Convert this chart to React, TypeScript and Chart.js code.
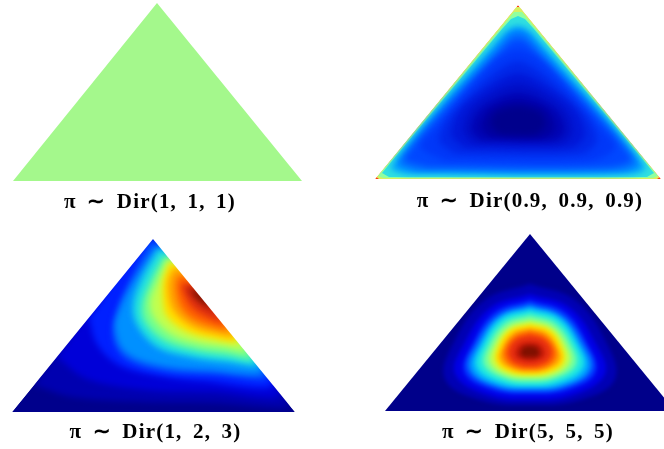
import React, { useEffect, useRef } from "react";
import { Chart, registerables } from "chart.js";

Chart.register(...registerables);

type Pair = [number, number];

// Captions
const captionUniform = "π ∼ Dir(1, 1, 1)";
const captionSparse = "π ∼ Dir(0.9, 0.9, 0.9)";
const captionSkewed = "π ∼ Dir(1, 2, 3)";
const captionPeaked = "π ∼ Dir(5, 5, 5)";

// Jet-like level colours, outermost first
const uniformColors = ["#a4f88c"];
const sparseColors = ["#ff3a10", "#d8f060", "#90ffa0", "#30e0e0", "#00a0ff", "#0070ff", "#0048ff", "#0038f8", "#0028e8", "#0018d8", "#0010c8", "#0004b4", "#0000a0", "#00008c"];
const skewedColors = ["#00008c", "#0000b0", "#0000d8", "#0020ff", "#0050ff", "#0090ff", "#20e0e0", "#70ff90", "#c0ff50", "#ffe000", "#ffa000", "#ff6000", "#e03010", "#b01c08", "#701000"];
const peakedColors = ["#00008a", "#0000b4", "#0000e6", "#0030ff", "#0070ff", "#00b0ff", "#20e8e0", "#70ffa0", "#c0ff50", "#ffe000", "#ffa000", "#ff6000", "#e83010", "#c01808", "#801000"];

// Density contours, outermost first
const uniformContours: Pair[][] = [
  [[0, 0], [289, 0], [144, 178]],
];

const sparseContours: Pair[][] = [
  [[0, 0], [286, 0], [143, 174]],
  [[4, 0], [282, 0], [284.5, 1.8], [144.8, 172], [141.2, 172], [1.5, 1.8]],
  [[8, 1], [278, 1], [283, 3], [147, 167], [139, 167], [3, 3]],
  [[14, 2], [272, 2], [279, 6], [159, 150], [150, 160], [143, 163], [136, 160], [127, 150], [7, 6]],
  [[30, 5], [256, 5], [270, 12], [158, 145], [150, 151], [143, 153], [136, 151], [128, 145], [16, 12]],
  [[40, 8], [246, 8], [263, 17], [156, 140], [150, 146], [143, 148], [136, 146], [130, 140], [23, 17]],
  [[52, 12], [234, 12], [256, 21], [158, 130], [150, 138], [143, 140], [136, 138], [128, 130], [30, 21]],
  [[70, 18], [216, 18], [240, 32], [222, 55], [170, 115], [143, 130], [116, 115], [64, 55], [46, 32]],
  [[80, 25], [206, 25], [222, 38], [212, 62], [168, 105], [143, 118], [118, 105], [74, 62], [64, 38]],
  [[90, 31], [196, 31], [210, 44], [200, 70], [165, 97], [143, 106], [121, 97], [86, 70], [76, 44]],
  [[98, 36], [188, 36], [198, 48], [190, 70], [162, 90], [143, 96], [124, 90], [96, 70], [88, 48]],
  [[105, 39], [181, 39], [190, 50], [182, 68], [160, 82], [143, 86], [126, 82], [104, 68], [96, 50]],
  [[115, 42], [171, 42], [180, 52], [172, 68], [155, 76], [143, 78], [131, 76], [114, 68], [106, 52]],
  [[125, 45], [161, 45], [170, 55], [165, 66], [152, 71], [143, 72], [134, 71], [121, 66], [116, 55]],
];

const skewedContours: Pair[][] = [
  [[0, 0], [283, 0], [141, 173]],
  [[22, 27], [60, 15], [135, 10], [200, 9], [277, 7], [141, 173]],
  [[45, 55], [75, 33], [135, 22], [200, 20], [268, 20], [141, 173]],
  [[77, 94], [85, 68], [105, 48], [135, 38], [188, 31], [261, 30], [141, 173]],
  [[136, 168], [115, 125], [103, 95], [102, 70], [115, 52], [155, 40], [205, 37], [256, 37], [141, 173]],
  [[143, 165], [120, 129], [108, 104], [103, 84], [113, 60], [145, 47], [195, 42], [251, 43], [150, 165]],
  [[146, 162], [130, 134], [121, 107], [125, 87], [145, 65], [178, 55], [215, 50], [246, 49], [153, 162]],
  [[151, 155], [138, 130], [130, 107], [133, 90], [151, 72], [181, 62], [215, 57], [241, 55], [159, 155]],
  [[155, 152], [145, 130], [138, 110], [142, 94], [160, 77], [188, 68], [211, 65], [234, 63], [161, 152]],
  [[157, 149], [151, 130], [151, 107], [155, 95], [171, 82], [195, 74], [227, 72], [164, 149]],
  [[161, 143], [156, 130], [158, 109], [165, 97], [181, 85], [201, 79], [223, 77], [169, 143]],
  [[166, 136], [164, 125], [168, 107], [178, 95], [195, 87], [217, 84], [174, 136]],
  [[170, 128], [170, 124], [178, 107], [191, 97], [212, 90], [181, 128]],
  [[175, 124], [178, 119], [188, 109], [205, 99], [184, 124]],
  [[180, 120], [185, 115], [195, 107], [198, 107], [187, 120]],
];

const peakedContours: Pair[][] = [
  [[0, 0], [290, 0], [145, 177]],
  [[145, 127], [190, 111], [220, 71], [230, 32], [195, 11], [145, 6], [95, 11], [60, 32], [70, 71], [100, 111]],
  [[145, 117], [184, 104], [210, 69], [220, 37], [188, 16], [145, 11], [102, 16], [70, 37], [80, 69], [106, 104]],
  [[145, 111], [180, 99], [202, 68], [211, 39], [183, 21], [145, 17], [107, 21], [79, 39], [88, 68], [110, 99]],
  [[145, 107], [177, 96], [199, 67], [207, 41], [180, 24], [145, 20], [110, 24], [83, 41], [91, 67], [113, 96]],
  [[145, 104], [175, 94], [195, 67], [203, 42], [178, 26], [145, 23], [112, 26], [87, 42], [95, 67], [115, 94]],
  [[145, 101], [173, 92], [192, 66], [198, 44], [176, 29], [145, 25], [114, 29], [92, 44], [98, 66], [117, 92]],
  [[145, 96], [170, 88], [187, 65], [191, 46], [172, 33], [145, 29], [118, 33], [99, 46], [103, 65], [120, 88]],
  [[145, 91], [167, 84], [182, 64], [185, 48], [169, 36], [145, 33], [121, 36], [105, 48], [108, 64], [123, 84]],
  [[145, 87], [165, 81], [177, 64], [179, 49], [166, 39], [145, 36], [124, 39], [111, 49], [113, 64], [125, 81]],
  [[145, 83], [162, 78], [173, 63], [175, 51], [163, 42], [145, 39], [127, 42], [115, 51], [117, 63], [128, 78]],
  [[145, 80], [160, 75], [170, 62], [170, 52], [160, 44], [145, 42], [130, 44], [120, 52], [120, 62], [130, 75]],
  [[145, 76], [158, 72], [166, 62], [165, 53], [157, 47], [145, 45], [133, 47], [125, 53], [124, 62], [132, 72]],
  [[145, 69], [154, 67], [159, 61], [159, 55], [154, 52], [145, 50], [136, 52], [131, 55], [131, 61], [136, 67]],
  [[145, 65], [151, 64], [154, 60], [154, 56], [150, 54], [145, 54], [140, 54], [136, 56], [136, 60], [139, 64]],
];

// White areas outside the triangle sides that trim the curved contours
const sparseTrim: Pair[][] = [
  [[-20, 0], [0, 0], [143, 174], [-20, 174]],
  [[286, 0], [320, 0], [320, 174], [143, 174]],
];
const skewedTrim: Pair[][] = [
  [[-20, 0], [0, 0], [141, 173], [-20, 173]],
  [[283, 0], [310, 0], [310, 173], [141, 173]],
];

interface Panel {
  caption: string;
  colors: string[];
  contours: Pair[][];
  trim: Pair[][];
  straight: number;
  tension: number;
  softness: number;
  triLeft: number;
  canvasLeft: number;
  canvasWidth: number;
  apexY: number;
  baseHeight: number;
  captionGap: number;
}

const panels: Panel[] = [
  { caption: captionUniform, colors: uniformColors, contours: uniformContours, trim: [], straight: 1, tension: 0, softness: 0, triLeft: 13, canvasLeft: -2, canvasWidth: 304, apexY: 3, baseHeight: 178, captionGap: 12 },
  { caption: captionSparse, colors: sparseColors, contours: sparseContours, trim: sparseTrim, straight: 4, tension: 0.3, softness: 3, triLeft: 375, canvasLeft: 375, canvasWidth: 310, apexY: 5, baseHeight: 174, captionGap: 13 },
  { caption: captionSkewed, colors: skewedColors, contours: skewedContours, trim: skewedTrim, straight: 1, tension: 0.35, softness: 3, triLeft: 12, canvasLeft: 12, canvasWidth: 287, apexY: 239, baseHeight: 173, captionGap: 11 },
  { caption: captionPeaked, colors: peakedColors, contours: peakedContours, trim: [], straight: 1, tension: 0.4, softness: 2.2, triLeft: 385, canvasLeft: 381, canvasWidth: 294, apexY: 234, baseHeight: 177, captionGap: 12 },
];

const captionFontSize = 21;
const captionLine = 20;

function closed(points: Pair[]) {
  return [...points, points[0]].map(([x, y]) => ({ x, y }));
}

function PanelChart({ panel }: { panel: Panel }) {
  const ref = useRef<HTMLCanvasElement>(null);
  const height = panel.baseHeight + captionLine + panel.captionGap;
  useEffect(() => {
    if (!ref.current) return;
    const layers = panel.contours.map((points, i) => ({
      data: closed(points),
      backgroundColor: panel.colors[i],
      tension: i < panel.straight ? 0 : panel.tension,
      soft: i >= panel.straight ? panel.softness : 0,
    }));
    const trims = panel.trim.map((points) => ({
      data: closed(points),
      backgroundColor: "#ffffff",
      tension: 0,
      soft: 0,
    }));
    // The first dataset is painted last
    const ordered = [...trims, ...layers.reverse()].map((d) => ({
      ...d,
      showLine: true,
      fill: "shape",
      borderWidth: 0,
      borderColor: "transparent",
      pointRadius: 0,
    }));
    const softAt = (i: number) => (ordered[i] && ordered[i].soft ? `blur(${ordered[i].soft}px)` : "none");
    const softLayers = {
      id: "softLayers",
      beforeDraw(c: any) {
        c.ctx.letterSpacing = "1.2px";
        c.ctx.wordSpacing = "4px";
      },
      beforeDatasetsDraw(c: any) {
        c.ctx.filter = softAt(ordered.length - 1);
      },
      afterDatasetDraw(c: any, args: any) {
        c.ctx.filter = softAt(args.index - 1);
      },
      afterDatasetsDraw(c: any) {
        c.ctx.filter = "none";
      },
    };
    const chart = new Chart(ref.current, {
      type: "scatter",
      data: { datasets: ordered as any },
      plugins: [softLayers],
      options: {
        animation: false,
        responsive: false,
        devicePixelRatio: 1,
        layout: { padding: 0 },
        events: [],
        scales: {
          x: { display: false, min: panel.canvasLeft - panel.triLeft, max: panel.canvasLeft - panel.triLeft + panel.canvasWidth },
          y: { display: false, min: 0, max: panel.baseHeight },
        },
        plugins: {
          legend: { display: false },
          tooltip: { enabled: false },
          title: {
            display: true,
            position: "bottom",
            text: panel.caption,
            color: "#000000",
            font: { family: "'Liberation Serif', serif", size: captionFontSize, weight: "bold", lineHeight: `${captionLine}px` },
            padding: { top: panel.captionGap, bottom: 0 },
          },
        },
      },
    });
    return () => chart.destroy();
  }, [panel]);
  return (
    <canvas
      ref={ref}
      width={panel.canvasWidth}
      height={height}
      style={{
        position: "absolute",
        left: panel.canvasLeft,
        top: panel.apexY,
        width: panel.canvasWidth,
        height,
        filter: "blur(0.5px)",
      }}
    />
  );
}

export default function App() {
  return (
    <div style={{ position: "fixed", left: 0, top: 0, width: 664, height: 449, overflow: "hidden", background: "#ffffff" }}>
      {panels.map((p) => (
        <PanelChart key={p.caption} panel={p} />
      ))}
    </div>
  );
}
